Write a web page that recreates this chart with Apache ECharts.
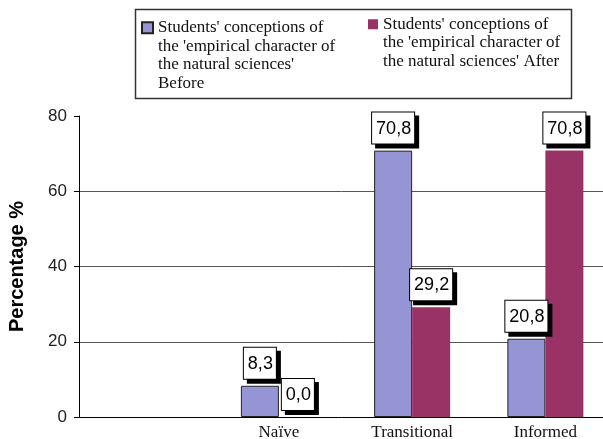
<!DOCTYPE html>
<html>
<head>
<meta charset="utf-8">
<script src="https://cdn.jsdelivr.net/npm/echarts@6/dist/echarts.min.js"></script>
<style>
  html, body { margin: 0; padding: 0; background: #fff; }
  #chart { width: 603px; height: 439px; }
</style>
</head>
<body>
<div id="chart"></div>
<script>
var categories = ['', 'Naïve', 'Transitional', 'Informed'];
var beforeValues = [null, 8.3, 70.8, 20.8];
var afterValues = [null, 0.0, 29.2, 70.8];
var beforeName = "Students' conceptions of\nthe 'empirical character of\nthe natural sciences'\nBefore";
var afterName = "Students' conceptions of\nthe 'empirical character of\nthe natural sciences' After";
var yTicks = [0, 20, 40, 60, 80];

var chart = echarts.init(document.getElementById('chart'));

// label box with a hard black drop shadow, like the old excel charts
function valueLabel() {
    return {
        show: true,
        position: 'top',
        distance: 7,
        fontFamily: 'Liberation Sans, Arial, sans-serif',
        fontSize: 18,
        lineHeight: 20,
        color: '#000',
        backgroundColor: '#fff',
        borderColor: '#000',
        borderWidth: 1,
        padding: [6, 3, 5, 4],
        shadowColor: '#000',
        shadowBlur: 0,
        shadowOffsetX: 4,
        shadowOffsetY: 4,
        formatter: function (p) {
            if (p.value == null) return '';
            return p.value.toFixed(1).replace('.', ',');
        }
    };
}

var LH = 18.5;
var legendText = {
    fontFamily: 'Liberation Serif, Times New Roman, serif',
    fontSize: 17,
    lineHeight: LH,
    color: '#111'
};
// legend text is centred on the icon: put blank lines on top so line 1 lands beside it
function topAligned(name) {
    var n = name.split('\n').length;
    return new Array(n).join('\n') + name;
}

var option = {
    backgroundColor: '#fff',
    animation: false,
    grid: {
        left: 79,
        right: -9,
        top: 116,
        bottom: 22,
        outerBoundsMode: 'none'
    },
    graphic: [{
        type: 'rect',
        shape: { x: 135.5, y: 9.5, width: 436, height: 89 },
        style: { fill: 'none', stroke: '#333', lineWidth: 1.5 },
        silent: true
    }],
    legend: [{
        data: [beforeName],
        formatter: topAligned,
        left: 141,
        top: -37,
        padding: 0,
        itemWidth: 11,
        itemHeight: 11,
        selectedMode: false,
        icon: 'rect',
        textStyle: legendText
    }, {
        data: [afterName],
        formatter: topAligned,
        left: 368,
        top: -22,
        padding: 0,
        itemWidth: 10,
        itemHeight: 10,
        selectedMode: false,
        icon: 'rect',
        textStyle: legendText
    }],
    xAxis: {
        type: 'category',
        data: categories,
        axisTick: { show: false },
        axisLine: { lineStyle: { color: '#000', width: 1 } },
        axisLabel: {
            margin: 7,
            fontFamily: 'Liberation Serif, Times New Roman, serif',
            fontSize: 17,
            color: '#111'
        }
    },
    yAxis: {
        type: 'value',
        min: yTicks[0],
        max: yTicks[yTicks.length - 1],
        interval: 20,
        name: 'Percentage %',
        nameLocation: 'middle',
        nameGap: 52,
        nameTextStyle: {
            fontFamily: 'Liberation Sans, Arial, sans-serif',
            fontSize: 20,
            fontWeight: 'bold',
            color: '#000'
        },
        axisLine: { show: true, lineStyle: { color: '#000', width: 1 } },
        axisTick: { show: true, length: 5, lineStyle: { color: '#000' } },
        axisLabel: {
            margin: 12,
            fontFamily: 'Liberation Sans, Arial, sans-serif',
            fontSize: 17,
            color: '#222'
        },
        splitLine: {
            show: true,
            lineStyle: {
                color: ['rgba(0,0,0,0)', '#555', '#555', '#555', 'rgba(0,0,0,0)'],
                width: 1
            }
        }
    },
    series: [{
        name: beforeName,
        type: 'bar',
        data: beforeValues,
        barWidth: 38,
        barGap: '0%',
        itemStyle: {
            color: '#9595d6',
            borderColor: '#222',
            borderWidth: 1
        },
        label: valueLabel()
    }, {
        name: afterName,
        type: 'bar',
        data: afterValues,
        barWidth: 38,
        barGap: '0%',
        itemStyle: {
            color: '#993366'
        },
        label: valueLabel()
    }]
};

chart.setOption(option);
</script>
</body>
</html>
